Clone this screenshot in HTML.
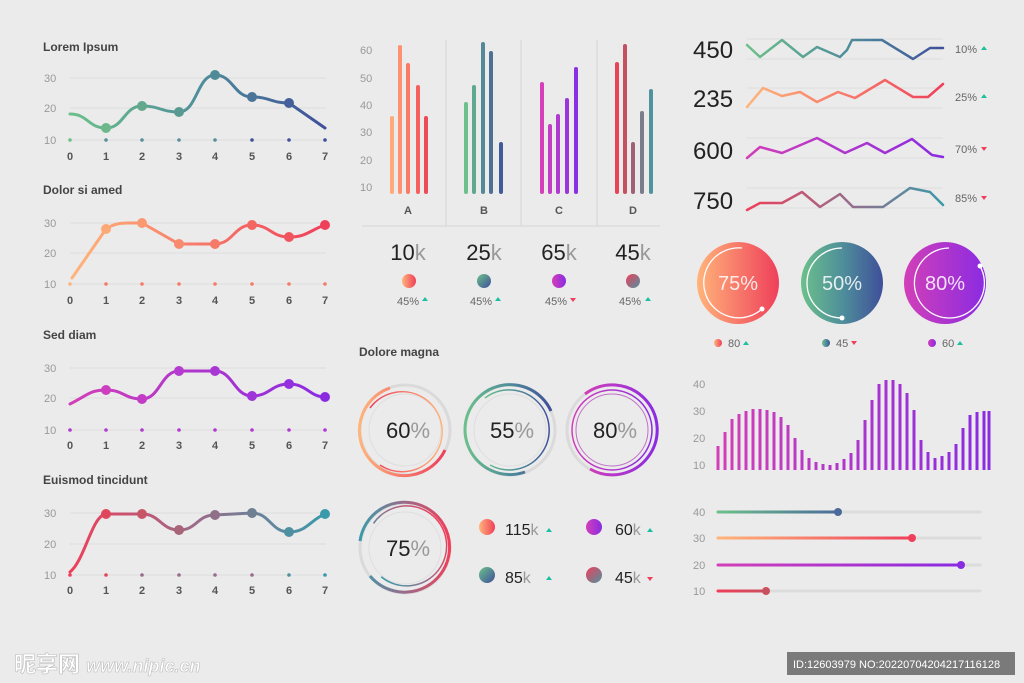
<!DOCTYPE html>
<html><head><meta charset="utf-8"><style>
html,body{margin:0;padding:0;background:#ebebeb;}
svg{display:block;font-family:"Liberation Sans","Noto Sans CJK SC",sans-serif;}
.t{font-size:12px;font-weight:bold;fill:#444}
.ax{font-size:11px;fill:#999}
.xl{font-size:11px;font-weight:bold;fill:#555;text-anchor:middle}
.g{stroke:#dedede;stroke-width:1}
.big{font-size:22px;fill:#222;font-weight:300}
.k{fill:#999}
.pc{font-size:11px;fill:#666}
</style></head><body>
<svg width="1024" height="683" viewBox="0 0 1024 683">
<defs>
<linearGradient id="gGreen" x1="0" x2="1"><stop offset="0" stop-color="#6cc08b"/><stop offset="0.5" stop-color="#4f8f9a"/><stop offset="1" stop-color="#3f4f9a"/></linearGradient>
<linearGradient id="gOrange" x1="0" x2="1"><stop offset="0" stop-color="#ffb47a"/><stop offset="1" stop-color="#ef3f5a"/></linearGradient>
<linearGradient id="gPurple" x1="0" x2="1"><stop offset="0" stop-color="#d23fb8"/><stop offset="1" stop-color="#8a2be2"/></linearGradient>
<linearGradient id="gMix" x1="0" x2="1"><stop offset="0" stop-color="#ef3f5a"/><stop offset="0.5" stop-color="#9a6b8a"/><stop offset="1" stop-color="#3a9aaa"/></linearGradient>
<linearGradient id="gGreenD" x1="0" y1="0" x2="1" y2="1"><stop offset="0" stop-color="#6cc08b"/><stop offset="1" stop-color="#3f4f9a"/></linearGradient>
<linearGradient id="gMixD" x1="0" y1="0" x2="1" y2="1"><stop offset="0" stop-color="#ef3f5a"/><stop offset="1" stop-color="#4f93a0"/></linearGradient>
<linearGradient id="gBars" gradientUnits="userSpaceOnUse" x1="718" x2="990"><stop offset="0" stop-color="#d23fb8"/><stop offset="1" stop-color="#8a2be2"/></linearGradient>
<linearGradient id="s1" gradientUnits="userSpaceOnUse" x1="718" x2="838"><stop offset="0" stop-color="#6cc08b"/><stop offset="1" stop-color="#4a6a98"/></linearGradient>
<linearGradient id="s2" gradientUnits="userSpaceOnUse" x1="718" x2="912"><stop offset="0" stop-color="#ffb47a"/><stop offset="1" stop-color="#ef3f5a"/></linearGradient>
<linearGradient id="s3" gradientUnits="userSpaceOnUse" x1="718" x2="961"><stop offset="0" stop-color="#d23fb8"/><stop offset="1" stop-color="#8a2be2"/></linearGradient>
<linearGradient id="s4" gradientUnits="userSpaceOnUse" x1="718" x2="766"><stop offset="0" stop-color="#ef3f5a"/><stop offset="1" stop-color="#c9505f"/></linearGradient>
</defs>

<!-- Left line charts -->
<g>
<text x="43" y="51" class="t">Lorem Ipsum</text>
<line x1="70" x2="326" y1="78" y2="78" class="g"/><line x1="70" x2="326" y1="108" y2="108" class="g"/><line x1="70" x2="326" y1="140" y2="140" class="g"/>
<text x="44" y="82" class="ax">30</text><text x="44" y="112" class="ax">20</text><text x="44" y="144" class="ax">10</text>
<path d="M70,114 C88,114 88,128 106,128 C124,128 124,106 142,106 C160,106 161,112 179,112 C197,112 197,75 215,75 C233,75 234,97 252,97 C270,97 271,103 289,103 L325,128" fill="none" stroke="url(#gGreen)" stroke-width="3" stroke-linecap="round"/>
<g fill="#5aa08f"><circle cx="106" cy="128" r="5" fill="#6cb88b"/><circle cx="142" cy="106" r="5" fill="#62a88d"/><circle cx="179" cy="112" r="5" fill="#579a92"/><circle cx="215" cy="75" r="5" fill="#4f8a98"/><circle cx="252" cy="97" r="5" fill="#4a7598"/><circle cx="289" cy="103" r="5" fill="#445f9a"/></g>
<g fill="#5a8f9a"><circle cx="70" cy="140" r="1.8" fill="#6cc08b"/><circle cx="106" cy="140" r="1.8"/><circle cx="142" cy="140" r="1.8"/><circle cx="179" cy="140" r="1.8"/><circle cx="215" cy="140" r="1.8"/><circle cx="252" cy="140" r="1.8" fill="#3f4f9a"/><circle cx="289" cy="140" r="1.8" fill="#3f4f9a"/><circle cx="325" cy="140" r="1.8" fill="#3f4f9a"/></g>
<g class="xl"><text x="70" y="160">0</text><text x="106" y="160">1</text><text x="142" y="160">2</text><text x="179" y="160">3</text><text x="215" y="160">4</text><text x="252" y="160">5</text><text x="289" y="160">6</text><text x="325" y="160">7</text></g>

<text x="43" y="194" class="t">Dolor si amed</text>
<line x1="70" x2="326" y1="223" y2="223" class="g"/><line x1="70" x2="326" y1="253" y2="253" class="g"/><line x1="70" x2="326" y1="284" y2="284" class="g"/>
<text x="44" y="227" class="ax">30</text><text x="44" y="257" class="ax">20</text><text x="44" y="288" class="ax">10</text>
<path d="M72,278 L106,229 C116,222 124,223 142,223 L179,244 L215,244 C233,244 234,225 252,225 C270,225 271,237 289,237 C307,237 310,230 325,225" fill="none" stroke="url(#gOrange)" stroke-width="3" stroke-linecap="round"/>
<circle cx="106" cy="229" r="5" fill="#fda877"/><circle cx="142" cy="223" r="5" fill="#fb9a72"/><circle cx="179" cy="244" r="5" fill="#f88a6d"/><circle cx="215" cy="244" r="5" fill="#f57a68"/><circle cx="252" cy="225" r="5" fill="#f26762"/><circle cx="289" cy="237" r="5" fill="#f0555e"/><circle cx="325" cy="225" r="5" fill="#ef3f5a"/>
<g fill="#f57a68"><circle cx="70" cy="284" r="1.8" fill="#ffb47a"/><circle cx="106" cy="284" r="1.8"/><circle cx="142" cy="284" r="1.8"/><circle cx="179" cy="284" r="1.8"/><circle cx="215" cy="284" r="1.8"/><circle cx="252" cy="284" r="1.8"/><circle cx="289" cy="284" r="1.8"/><circle cx="325" cy="284" r="1.8"/></g>
<g class="xl"><text x="70" y="304">0</text><text x="106" y="304">1</text><text x="142" y="304">2</text><text x="179" y="304">3</text><text x="215" y="304">4</text><text x="252" y="304">5</text><text x="289" y="304">6</text><text x="325" y="304">7</text></g>

<text x="43" y="339" class="t">Sed diam</text>
<line x1="70" x2="326" y1="368" y2="368" class="g"/><line x1="70" x2="326" y1="398" y2="398" class="g"/><line x1="70" x2="326" y1="430" y2="430" class="g"/>
<text x="44" y="372" class="ax">30</text><text x="44" y="402" class="ax">20</text><text x="44" y="434" class="ax">10</text>
<path d="M70,404 C88,395 90,390 106,390 C124,390 124,399 142,399 C160,399 161,371 179,371 L215,371 C233,371 234,396 252,396 C270,396 271,384 289,384 C307,384 310,397 325,397" fill="none" stroke="url(#gPurple)" stroke-width="3" stroke-linecap="round"/>
<g fill="#b43ad0"><circle cx="106" cy="390" r="5" fill="#cc3fbe"/><circle cx="142" cy="399" r="5" fill="#c33cc5"/><circle cx="179" cy="371" r="5"/><circle cx="215" cy="371" r="5" fill="#a937d6"/><circle cx="252" cy="396" r="5" fill="#9f34db"/><circle cx="289" cy="384" r="5" fill="#9530df"/><circle cx="325" cy="397" r="5" fill="#8a2be2"/></g>
<g fill="#b03ad0"><circle cx="70" cy="430" r="1.8"/><circle cx="106" cy="430" r="1.8"/><circle cx="142" cy="430" r="1.8"/><circle cx="179" cy="430" r="1.8"/><circle cx="215" cy="430" r="1.8"/><circle cx="252" cy="430" r="1.8"/><circle cx="289" cy="430" r="1.8"/><circle cx="325" cy="430" r="1.8"/></g>
<g class="xl"><text x="70" y="449">0</text><text x="106" y="449">1</text><text x="142" y="449">2</text><text x="179" y="449">3</text><text x="215" y="449">4</text><text x="252" y="449">5</text><text x="289" y="449">6</text><text x="325" y="449">7</text></g>

<text x="43" y="484" class="t">Euismod tincidunt</text>
<line x1="70" x2="326" y1="513" y2="513" class="g"/><line x1="70" x2="326" y1="544" y2="544" class="g"/><line x1="70" x2="326" y1="575" y2="575" class="g"/>
<text x="44" y="517" class="ax">30</text><text x="44" y="548" class="ax">20</text><text x="44" y="579" class="ax">10</text>
<path d="M70,572 C85,560 92,515 106,514 L142,514 C160,514 161,530 179,530 C197,530 197,515 215,515 L252,513 C270,513 271,532 289,532 C307,532 310,520 325,514" fill="none" stroke="url(#gMix)" stroke-width="3" stroke-linecap="round"/>
<circle cx="106" cy="514" r="5" fill="#e0475c"/><circle cx="142" cy="514" r="5" fill="#c85565"/><circle cx="179" cy="530" r="5" fill="#a86478"/><circle cx="215" cy="515" r="5" fill="#8f7088"/><circle cx="252" cy="513" r="5" fill="#6f8092"/><circle cx="289" cy="532" r="5" fill="#4f90a0"/><circle cx="325" cy="514" r="5" fill="#3a9aaa"/>
<g fill="#9a6b8a"><circle cx="70" cy="575" r="1.8" fill="#ef3f5a"/><circle cx="106" cy="575" r="1.8" fill="#e0475c"/><circle cx="142" cy="575" r="1.8"/><circle cx="179" cy="575" r="1.8"/><circle cx="215" cy="575" r="1.8"/><circle cx="252" cy="575" r="1.8"/><circle cx="289" cy="575" r="1.8" fill="#4f90a0"/><circle cx="325" cy="575" r="1.8" fill="#3a9aaa"/></g>
<g class="xl"><text x="70" y="594">0</text><text x="106" y="594">1</text><text x="142" y="594">2</text><text x="179" y="594">3</text><text x="215" y="594">4</text><text x="252" y="594">5</text><text x="289" y="594">6</text><text x="325" y="594">7</text></g>
</g>

<!-- Bar chart -->
<g>
<g class="ax"><text x="360" y="54">60</text><text x="360" y="82">50</text><text x="360" y="109">40</text><text x="360" y="136">30</text><text x="360" y="164">20</text><text x="360" y="191">10</text></g>
<g stroke="#d6d6d6"><line x1="446" x2="446" y1="40" y2="226"/><line x1="521" x2="521" y1="40" y2="226"/><line x1="597" x2="597" y1="40" y2="226"/><line x1="362" x2="660" y1="226" y2="226"/></g>
<g stroke-width="4" stroke-linecap="round">
<line x1="392" x2="392" y1="192" y2="118" stroke="#ffaa7a"/><line x1="400" x2="400" y1="192" y2="47" stroke="#ff9070"/><line x1="408" x2="408" y1="192" y2="65" stroke="#fb7a65"/><line x1="418" x2="418" y1="192" y2="87" stroke="#f5605c"/><line x1="426" x2="426" y1="192" y2="118" stroke="#ef4a58"/>
<line x1="466" x2="466" y1="192" y2="104" stroke="#6cc08b"/><line x1="474" x2="474" y1="192" y2="87" stroke="#5ea890"/><line x1="483" x2="483" y1="192" y2="44" stroke="#55899a"/><line x1="491" x2="491" y1="192" y2="53" stroke="#4e7097"/><line x1="501" x2="501" y1="192" y2="144" stroke="#415a9c"/>
<line x1="542" x2="542" y1="192" y2="84" stroke="#d73fb8"/><line x1="550" x2="550" y1="192" y2="126" stroke="#c53cc5"/><line x1="558" x2="558" y1="192" y2="116" stroke="#b03ad0"/><line x1="567" x2="567" y1="192" y2="100" stroke="#9c35dc"/><line x1="576" x2="576" y1="192" y2="69" stroke="#8b2fe6"/>
<line x1="617" x2="617" y1="192" y2="64" stroke="#e84459"/><line x1="625" x2="625" y1="192" y2="46" stroke="#c5505f"/><line x1="633" x2="633" y1="192" y2="144" stroke="#9f6275"/><line x1="642" x2="642" y1="192" y2="113" stroke="#7a7d8a"/><line x1="651" x2="651" y1="192" y2="91" stroke="#4f939e"/>
</g>
<g class="xl"><text x="408" y="214">A</text><text x="484" y="214">B</text><text x="559" y="214">C</text><text x="633" y="214">D</text></g>
<g class="big" text-anchor="middle"><text x="408" y="260">10<tspan class="k">k</tspan></text><text x="484" y="260">25<tspan class="k">k</tspan></text><text x="559" y="260">65<tspan class="k">k</tspan></text><text x="633" y="260">45<tspan class="k">k</tspan></text></g>
<circle cx="409" cy="281" r="7" fill="url(#gOrange)"/><circle cx="484" cy="281" r="7" fill="url(#gGreenD)"/><circle cx="559" cy="281" r="7" fill="url(#gPurple)"/><circle cx="633" cy="281" r="7" fill="url(#gMixD)"/>
<g class="pc"><text x="397" y="305">45%</text><text x="470" y="305">45%</text><text x="545" y="305">45%</text><text x="619" y="305">45%</text></g>
<polygon points="422,301 428,301 425,297" fill="#1cc0a0"/><polygon points="495,301 501,301 498,297" fill="#1cc0a0"/><polygon points="570,298 576,298 573,302" fill="#ef3f5a"/><polygon points="645,301 651,301 648,297" fill="#1cc0a0"/>
</g>

<!-- Right sparklines -->
<g>
<g font-size="24" fill="#222" font-weight="300"><text x="693" y="58">450</text><text x="693" y="107">235</text><text x="693" y="159">600</text><text x="693" y="209">750</text></g>
<g class="g"><line x1="747" x2="943" y1="39" y2="39"/><line x1="747" x2="943" y1="59" y2="59"/><line x1="747" x2="943" y1="88" y2="88"/><line x1="747" x2="943" y1="108" y2="108"/><line x1="747" x2="943" y1="138" y2="138"/><line x1="747" x2="943" y1="158" y2="158"/><line x1="747" x2="943" y1="188" y2="188"/><line x1="747" x2="943" y1="208" y2="208"/></g>
<g fill="none" stroke-width="2.5" stroke-linejoin="round" stroke-linecap="round">
<polyline points="747,45 760,57 782,40 803,57 817,47 840,57 847,50 852,40 882,40 913,59 930,48 943,48" stroke="url(#gGreen)"/>
<polyline points="747,107 763,88 782,96 800,92 817,102 838,92 855,98 885,80 913,97 928,97 943,84" stroke="url(#gOrange)"/>
<polyline points="747,158 760,147 782,153 817,138 845,153 867,143 885,153 912,139 932,155 943,157" stroke="url(#gPurple)"/>
<polyline points="747,210 760,203 782,203 802,192 820,207 840,194 853,207 883,207 910,188 930,192 943,205" stroke="url(#gMix)"/>
</g>
<g class="pc"><text x="955" y="53">10%</text><text x="955" y="101">25%</text><text x="955" y="153">70%</text><text x="955" y="202">85%</text></g>
<polygon points="981,50 987,50 984,46" fill="#1cc0a0"/><polygon points="981,98 987,98 984,94" fill="#1cc0a0"/><polygon points="981,147 987,147 984,151" fill="#ef3f5a"/><polygon points="981,196 987,196 984,200" fill="#ef3f5a"/>
</g>

<!-- Big gradient circles -->
<g>
<circle cx="738" cy="283" r="41" fill="url(#gOrange)"/><circle cx="842" cy="283" r="41" fill="url(#gGreen)"/><circle cx="945" cy="283" r="41" fill="url(#gPurple)"/>
<g fill="none" stroke="#fff" stroke-width="1.3">
<path d="M742,248 A35,35 0 1 0 762,309"/><path d="M842,248 A35,35 0 0 0 842,318"/><path d="M949,248 A35,35 0 1 0 980,266"/>
</g>
<circle cx="762" cy="309" r="2.5" fill="#fff"/><circle cx="842" cy="318" r="2.5" fill="#fff"/><circle cx="980" cy="266" r="2.5" fill="#fff"/>
<g font-size="20" fill="#fff" fill-opacity="0.85" text-anchor="middle"><text x="738" y="290">75%</text><text x="842" y="290">50%</text><text x="945" y="290">80%</text></g>
<circle cx="718" cy="343" r="4" fill="url(#gOrange)"/><circle cx="826" cy="343" r="4" fill="url(#gGreen)"/><circle cx="932" cy="343" r="4" fill="url(#gPurple)"/>
<g class="pc"><text x="728" y="347">80</text><text x="836" y="347">45</text><text x="942" y="347">60</text></g>
<polygon points="743,345 749,345 746,341" fill="#1cc0a0"/><polygon points="851,341 857,341 854,345" fill="#ef3f5a"/><polygon points="957,345 963,345 960,341" fill="#1cc0a0"/>
</g>

<!-- Dolore magna rings -->
<g>
<text x="359" y="356" class="t">Dolore magna</text>
<g fill="none">
<circle cx="405" cy="430" r="45" stroke="#dadada" stroke-width="3"/>
<circle cx="405" cy="430" r="36" stroke="#dedede" stroke-width="1"/>
<path d="M390,388 A45,45 0 1 0 445,450" stroke="url(#gOrange)" stroke-width="3"/>
<path d="M430,395 A40,40 0 1 0 440,452" stroke="url(#gOrange)" stroke-width="1.5" transform="rotate(180 405 430)"/>
<circle cx="510" cy="430" r="45" stroke="#dadada" stroke-width="3"/>
<circle cx="510" cy="430" r="36" stroke="#dedede" stroke-width="1"/>
<path d="M551,411 A45,45 0 1 0 525,472" stroke="url(#gGreen)" stroke-width="3"/>
<path d="M485,398 A40,40 0 1 1 490,465" stroke="url(#gGreen)" stroke-width="1.5"/>
<circle cx="612" cy="430" r="45" stroke="#dadada" stroke-width="3"/>
<path d="M585,394 A45,45 0 1 1 590,469" stroke="url(#gPurple)" stroke-width="3"/>
<circle cx="612" cy="430" r="40" stroke="url(#gPurple)" stroke-width="1.5"/>
<circle cx="612" cy="430" r="36" stroke="#c070c8" stroke-width="1"/>
<circle cx="405" cy="548" r="45" stroke="#dadada" stroke-width="3"/>
<circle cx="405" cy="548" r="36" stroke="#dedede" stroke-width="1"/>
<path d="M450,555 A45,45 0 1 1 440,520" stroke="url(#gMix)" stroke-width="3" transform="rotate(180 405 548)"/>
<path d="M440,535 A40,40 0 1 0 420,585" stroke="url(#gMix)" stroke-width="1.5" transform="rotate(150 405 548)"/>
</g>
<g class="big" font-size="22" text-anchor="middle"><text x="408" y="438">60<tspan class="k">%</tspan></text><text x="512" y="438">55<tspan class="k">%</tspan></text><text x="615" y="438">80<tspan class="k">%</tspan></text><text x="408" y="556">75<tspan class="k">%</tspan></text></g>
<circle cx="487" cy="527" r="8" fill="url(#gOrange)"/><circle cx="594" cy="527" r="8" fill="url(#gPurple)"/><circle cx="487" cy="575" r="8" fill="url(#gGreenD)"/><circle cx="594" cy="575" r="8" fill="url(#gMixD)"/>
<g font-size="16" fill="#222"><text x="505" y="535">115<tspan class="k">k</tspan></text><text x="615" y="535">60<tspan class="k">k</tspan></text><text x="505" y="583">85<tspan class="k">k</tspan></text><text x="615" y="583">45<tspan class="k">k</tspan></text></g>
<polygon points="546,532 552,532 549,528" fill="#1cc0a0"/><polygon points="647,532 653,532 650,528" fill="#1cc0a0"/><polygon points="546,580 552,580 549,576" fill="#1cc0a0"/><polygon points="647,577 653,577 650,581" fill="#ef3f5a"/>
</g>

<!-- Bottom-right bar series -->
<g>
<g class="ax"><text x="693" y="388">40</text><text x="693" y="415">30</text><text x="693" y="442">20</text><text x="693" y="469">10</text></g>
<g stroke="url(#gBars)" stroke-width="3">
<line x1="718" x2="718" y1="470" y2="446"/><line x1="725" x2="725" y1="470" y2="432"/><line x1="732" x2="732" y1="470" y2="419"/><line x1="739" x2="739" y1="470" y2="414"/><line x1="746" x2="746" y1="470" y2="411"/><line x1="753" x2="753" y1="470" y2="409"/><line x1="760" x2="760" y1="470" y2="409"/><line x1="767" x2="767" y1="470" y2="410"/><line x1="774" x2="774" y1="470" y2="412"/><line x1="781" x2="781" y1="470" y2="417"/><line x1="788" x2="788" y1="470" y2="425"/><line x1="795" x2="795" y1="470" y2="438"/><line x1="802" x2="802" y1="470" y2="450"/><line x1="809" x2="809" y1="470" y2="458"/><line x1="816" x2="816" y1="470" y2="462"/><line x1="823" x2="823" y1="470" y2="464"/><line x1="830" x2="830" y1="470" y2="465"/><line x1="837" x2="837" y1="470" y2="463"/><line x1="844" x2="844" y1="470" y2="459"/><line x1="851" x2="851" y1="470" y2="453"/><line x1="858" x2="858" y1="470" y2="440"/><line x1="865" x2="865" y1="470" y2="420"/><line x1="872" x2="872" y1="470" y2="400"/><line x1="879" x2="879" y1="470" y2="384"/><line x1="886" x2="886" y1="470" y2="380"/><line x1="893" x2="893" y1="470" y2="380"/><line x1="900" x2="900" y1="470" y2="384"/><line x1="907" x2="907" y1="470" y2="393"/><line x1="914" x2="914" y1="470" y2="410"/><line x1="921" x2="921" y1="470" y2="440"/><line x1="928" x2="928" y1="470" y2="452"/><line x1="935" x2="935" y1="470" y2="458"/><line x1="942" x2="942" y1="470" y2="456"/><line x1="949" x2="949" y1="470" y2="452"/><line x1="956" x2="956" y1="470" y2="444"/><line x1="963" x2="963" y1="470" y2="428"/><line x1="970" x2="970" y1="470" y2="415"/><line x1="977" x2="977" y1="470" y2="412"/><line x1="984" x2="984" y1="470" y2="411"/><line x1="989" x2="989" y1="470" y2="411"/>
</g>
</g>

<!-- Sliders -->
<g>
<g class="ax"><text x="693" y="516">40</text><text x="693" y="542">30</text><text x="693" y="569">20</text><text x="693" y="595">10</text></g>
<g stroke="#dcdcdc" stroke-width="3" stroke-linecap="round"><line x1="718" x2="980" y1="512" y2="512"/><line x1="718" x2="980" y1="538" y2="538"/><line x1="718" x2="980" y1="565" y2="565"/><line x1="718" x2="980" y1="591" y2="591"/></g>
<g stroke-width="3" stroke-linecap="round">
<line x1="718" x2="838" y1="512" y2="512" stroke="url(#s1)"/><line x1="718" x2="912" y1="538" y2="538" stroke="url(#s2)"/><line x1="718" x2="961" y1="565" y2="565" stroke="url(#s3)"/><line x1="718" x2="766" y1="591" y2="591" stroke="url(#s4)"/>
</g>
<circle cx="838" cy="512" r="4" fill="#4a6a98"/><circle cx="912" cy="538" r="4" fill="#ef3f5a"/><circle cx="961" cy="565" r="4" fill="#8a2be2"/><circle cx="766" cy="591" r="4" fill="#c9505f"/>
</g>

<!-- Watermark -->
<text x="14" y="672" font-size="22" font-weight="bold" fill="#fff" stroke="#bbb" stroke-width="0.6">昵享网 <tspan font-size="18" font-style="italic">www.nipic.cn</tspan></text>
<rect x="787" y="652" width="228" height="23" fill="#666" fill-opacity="0.85"/>
<text x="793" y="668" font-size="11" fill="#fff">ID:12603979 NO:20220704204217116128</text>
</svg>
</body></html>
